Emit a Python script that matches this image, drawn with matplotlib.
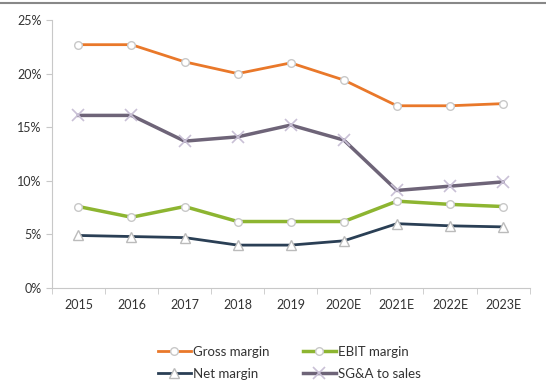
import numpy as np
import matplotlib.pyplot as plt

plt.rcParams['font.family'] = ['Lato', 'DejaVu Sans']

years = ['2015', '2016', '2017', '2018', '2019', '2020E', '2021E', '2022E', '2023E']
gross = [22.7, 22.7, 21.1, 20.0, 21.0, 19.4, 17.0, 17.0, 17.2]
ebit = [7.6, 6.6, 7.6, 6.2, 6.2, 6.2, 8.1, 7.8, 7.6]
net = [4.9, 4.8, 4.7, 4.0, 4.0, 4.4, 6.0, 5.8, 5.7]
sga = [16.1, 16.1, 13.7, 14.1, 15.2, 13.8, 9.1, 9.5, 9.9]

fig = plt.figure(figsize=(5.46, 3.85), dpi=100)
ax = fig.add_axes([0.095, 0.252, 0.875, 0.696])
x = np.arange(len(years))

l1, = ax.plot(x, gross, color='#E9782A', lw=2, marker='o', ms=5.5, mfc='white', mec='#C8C8C8', label='Gross margin')
l2, = ax.plot(x, ebit, color='#8DB531', lw=2.5, marker='o', ms=5.5, mfc='white', mec='#C8C8C8', label='EBIT margin')
l3, = ax.plot(x, net, color='#2A3F55', lw=2, marker='^', ms=6.5, mfc='white', mec='#BBBBBB', label='Net margin')
l4, = ax.plot(x, sga, color='#6E6478', lw=2.5, marker='x', ms=8.5, mew=1.2, mec='#C9C0D6', label='SG&A to sales')

ax.set_xlim(-0.5, len(years) - 0.5)
ax.set_ylim(0, 25)
ax.set_yticks([0, 5, 10, 15, 20, 25])
ax.set_yticklabels(['0%', '5%', '10%', '15%', '20%', '25%'])
ax.set_xticks(x)
ax.set_xticklabels(years)
ax.set_xticks(np.arange(-0.5, len(years)), minor=True)
ax.tick_params(axis='x', which='major', length=0, pad=8, labelsize=9, colors='#333333')
ax.tick_params(axis='x', which='minor', length=4, color='#C8C8C8')
ax.tick_params(axis='y', length=4, color='#C8C8C8', labelsize=9, labelcolor='#333333')
for s in ['top', 'right']:
    ax.spines[s].set_visible(False)
for s in ['left', 'bottom']:
    ax.spines[s].set_color('#C8C8C8')

fig.legend([l1, l3, l2, l4], ['Gross margin', 'Net margin', 'EBIT margin', 'SG&A to sales'],
           loc='center', bbox_to_anchor=(0.53, 0.058), ncol=2, frameon=False,
           fontsize=9.5, handlelength=2.5, handletextpad=0.2, columnspacing=2.5,
           labelspacing=0.75, labelcolor='#333333')

fig.add_artist(plt.Line2D([0, 1], [0.993, 0.993], color='#888888', lw=1.5))

fig.savefig('out.png', dpi=100)
